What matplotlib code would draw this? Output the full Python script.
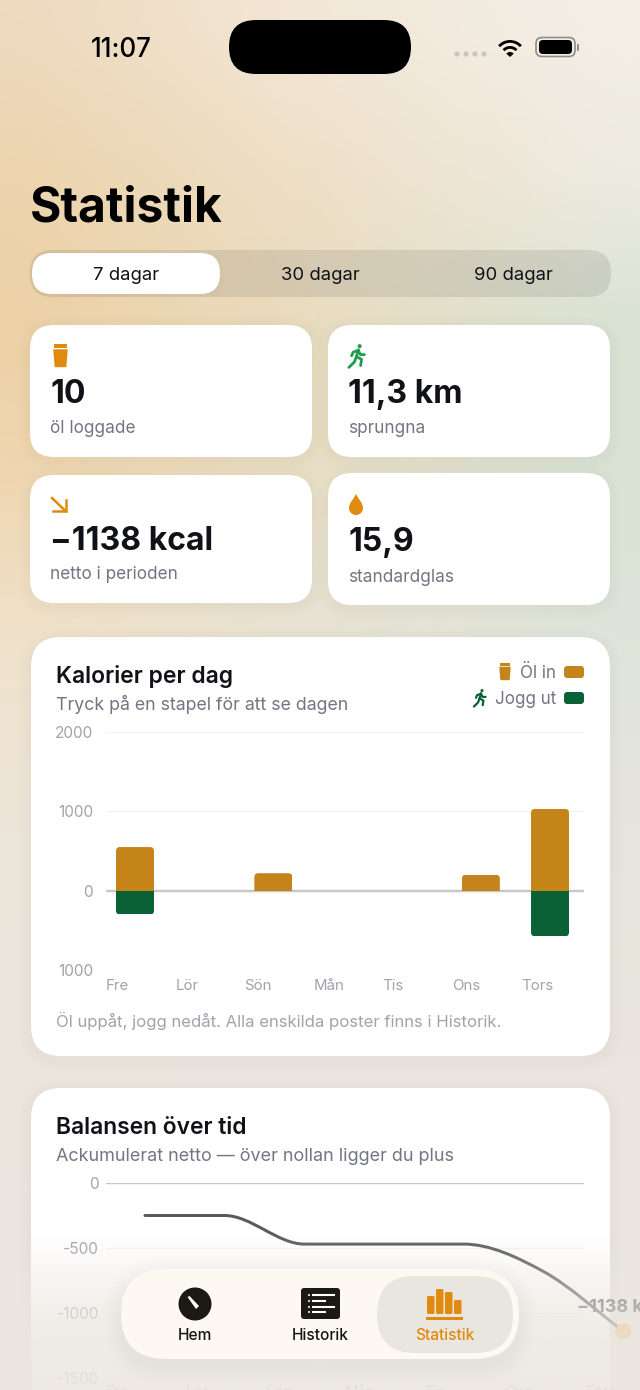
"""Statistik screen of the beer/jogging app: stat cards, calories per day, balance over time."""
import numpy as np
import matplotlib
matplotlib.use("Agg")
import matplotlib.pyplot as plt
from matplotlib.colors import to_rgb
from matplotlib.patches import Circle, Ellipse, FancyBboxPatch, PathPatch, Polygon, Rectangle, Wedge
from matplotlib.path import Path as MPath

plt.rcParams["font.family"] = ["Inter", "DejaVu Sans"]

W, H = 640, 1390
PX = 0.72  # px -> pt at dpi 100

INK = "#111217"
SUB = "#737682"
MUTED = "#a1a3ad"
ORANGE = "#e08a0e"
BEER = "#c5841a"
JOG = "#0b6136"
RUN_GREEN = "#1f9d4d"
GRID = "#f2f2f3"
ZERO = "#c6c6cc"
TAB = "#fdf9f2"
FADE = "#ece7e0"

DAYS = ["Fre", "Lör", "Sön", "Mån", "Tis", "Ons", "Tors"]
BEER_KCAL = [550, 0, 220, 0, 0, 200, 1030]
JOG_KCAL = [300, 0, 0, 0, 0, 0, 575]
BAR_TICKS = [-1000, 0, 1000, 2000]
BAR_TICK_LABELS = ["1000", "0", "1000", "2000"]

BALANCE = [-250, -250, -470, -470, -470, -680, -1138]
LINE_TICKS = [-1500, -1000, -500, 0]
LINE_TICK_LABELS = ["-1500", "-1000", "-500", "0"]

RANGES = ["7 dagar", "30 dagar", "90 dagar"]
STATS = [("10", "öl loggade"), ("11,3 km", "sprungna"),
         ("−1138 kcal", "netto i perioden"), ("15,9", "standardglas")]
TABS = ["Hem", "Historik", "Statistik"]

# background colours on a coarse grid (left, middle, right)
BG_ROWS = [0, 150, 300, 450, 620, 800, 1100, 1390]
BG = [["#eedabf", "#f3e8d8", "#f3efe7"],
      ["#ecd4ae", "#eee0c8", "#eeebe1"],
      ["#edd1a6", "#e9dcc0", "#d9e3d4"],
      ["#efd6b0", "#e9dfc6", "#d9e3d5"],
      ["#f0e2cb", "#e7e3d5", "#dfe4da"],
      ["#ede5d9", "#e9e5dc", "#e6e5dd"],
      ["#ebe6df", "#ebe6df", "#ebe6df"],
      ["#ebe6df", "#ebe6df", "#ebe6df"]]


def px_axes(fig, x0, y0, x1, y1, **kw):
    return fig.add_axes([x0 / W, 1 - y1 / H, (x1 - x0) / W, (y1 - y0) / H], **kw)


def txt(ax, x, y, s, size, color=INK, weight="normal", ha="left", va="baseline", z=8, **kw):
    return ax.text(x, y, s, fontsize=size * PX, color=color, fontweight=weight,
                   ha=ha, va=va, zorder=z, **kw)


def rrect(ax, x0, y0, x1, y1, r, color, z=2, alpha=1.0, lw=0):
    p = FancyBboxPatch((x0, y0), x1 - x0, y1 - y0,
                       boxstyle=f"round,pad=0,rounding_size={r}",
                       fc=color, ec="none", lw=lw, alpha=alpha, zorder=z)
    ax.add_patch(p)
    return p


def shadow(ax, x0, y0, x1, y1, r, z=1, spread=12, dy=3, strength=0.0025):
    for k in range(spread, 0, -2):
        rrect(ax, x0 - k, y0 - k + dy, x1 + k, y1 + k + dy, r + k, "#5a4a30",
              z=z, alpha=strength)


def card(ax, x0, y0, x1, y1, r, z=2):
    shadow(ax, x0, y0, x1, y1, r, z=z - 0.5)
    rrect(ax, x0, y0, x1, y1, r, "white", z=z)


def runner(ax, cx, cy, s, color, lw, z=6):
    # s = half height of the icon in px
    ax.add_patch(Circle((cx + 0.22 * s, cy - 0.82 * s), 0.17 * s, fc=color, ec="none", zorder=z))
    parts = [[(0.12, -0.52), (-0.05, 0.05)],                    # torso
             [(0.12, -0.48), (-0.32, -0.32), (-0.45, -0.02)],   # back arm
             [(0.10, -0.48), (0.28, -0.12), (0.62, -0.12)],     # front arm
             [(-0.05, 0.05), (0.38, 0.28), (0.30, 0.80)],       # front leg
             [(-0.05, 0.05), (-0.22, 0.50), (-0.68, 0.95)]]     # back leg
    for pts in parts:
        xs = [cx + s * a for a, _ in pts]
        ys = [cy + s * b for _, b in pts]
        ax.plot(xs, ys, color=color, lw=lw, solid_capstyle="round",
                solid_joinstyle="round", zorder=z)


def glass(ax, x0, y0, x1, y1, color, z=6):
    h = y1 - y0
    w = x1 - x0
    ax.add_patch(Rectangle((x0, y0), w, 0.17 * h, fc=color, ec="none", zorder=z))
    ax.add_patch(Polygon([(x0, y0 + 0.26 * h), (x1, y0 + 0.26 * h),
                          (x1 - 0.1 * w, y1 - 0.5), (x0 + 0.1 * w, y1 - 0.5)],
                         closed=True, fc=color, ec=color, lw=1, joinstyle="round", zorder=z))


def rounded_bars(ax, xs, vals, width, color, r_px, sx, sy):
    """bars with only the outer end rounded, clipped by a longer rounded box"""
    bars = ax.bar(xs, vals, width=width, color=color, linewidth=0, zorder=3)
    for bar, v in zip(bars, vals):
        if v == 0:
            continue
        over = 200 if v > 0 else -200
        b0, b1 = min(-over, v), max(-over, v)
        clip = FancyBboxPatch((bar.get_x(), b0), width, b1 - b0,
                              boxstyle=f"round,pad=0,rounding_size={r_px / sx}",
                              mutation_aspect=sx / sy, transform=ax.transData,
                              fc="none", ec="none")
        bar.set_clip_path(clip)


def bar_glow(ax, xs, ups, downs, width, sx, sy):
    # soft grey halo round each stacked bar
    for k in range(2, 26, 2):
        for xi, u, d in zip(xs, ups, downs):
            if u == 0 and d == 0:
                continue
            ax.bar(xi, u + d + 2 * k / sy, bottom=-d - k / sy, width=width + 2 * k / sx,
                   color="#40403a", alpha=0.0016, linewidth=0, zorder=1.5)


def smooth_path(xs, ys):
    # cubic segments through the points, tangents zero at flats
    xs, ys = np.asarray(xs, float), np.asarray(ys, float)
    d = np.diff(ys) / np.diff(xs)
    m = np.zeros(len(xs))
    for i in range(1, len(xs) - 1):
        m[i] = 0 if d[i - 1] * d[i] <= 0 else 0.5 * (d[i - 1] + d[i])
    m[0], m[-1] = d[0], d[-1]
    verts, codes = [(xs[0], ys[0])], [MPath.MOVETO]
    for i in range(len(xs) - 1):
        h = (xs[i + 1] - xs[i]) / 3
        verts += [(xs[i] + h, ys[i] + m[i] * h), (xs[i + 1] - h, ys[i + 1] - m[i + 1] * h),
                  (xs[i + 1], ys[i + 1])]
        codes += [MPath.CURVE4] * 3
    return MPath(verts, codes)


def style_chart(ax, ticks, labels, pad_px):
    ax.patch.set_alpha(0)
    for s in ax.spines.values():
        s.set_visible(False)
    ax.set_yticks(ticks)
    ax.set_yticklabels(labels)
    ax.tick_params(axis="y", length=0, pad=pad_px * PX, labelsize=15.5 * PX, labelcolor=MUTED)
    ax.tick_params(axis="x", length=0, labelsize=15 * PX, labelcolor=MUTED)
    ax.grid(True, axis="y", color=GRID, lw=1.2 * PX)
    ax.set_axisbelow(True)


def main():
    fig = plt.figure(figsize=(W / 100, H / 100), dpi=100)

    # ---- base layer: background, header, cards ------------------------------
    ui = fig.add_axes([0, 0, 1, 1], zorder=0)
    ui.axis("off")
    bg = np.array([[to_rgb(c) for c in row] for row in BG])
    cols = np.linspace(0, W, 9)
    rows = np.arange(0, H + 1, 50)
    fine = np.zeros((len(rows), len(cols), 3))
    for ch in range(3):
        tmp = np.array([np.interp(rows, BG_ROWS, bg[:, j, ch]) for j in range(3)])
        for i in range(len(rows)):
            fine[i, :, ch] = np.interp(cols, [0, W / 2, W], tmp[:, i])
    ui.imshow(fine, extent=(0, W, H, 0), aspect="auto", interpolation="bicubic", zorder=0)
    ui.set_xlim(0, W)
    ui.set_ylim(H, 0)

    # status bar
    txt(ui, 121, 47, "11:07", 26, color="black", weight="medium", ha="center", va="center_baseline")
    rrect(ui, 229, 20, 411, 74, 27, "black", z=3)
    for x in (457, 466, 475, 484):
        ui.add_patch(Circle((x, 54), 2.6, fc="#c9c6c0", ec="none", zorder=3))
    for r in (16, 10):
        ui.add_patch(Wedge((510, 56), r, 222, 318, width=2.8, fc="black", ec="none", zorder=3))
    ui.add_patch(Wedge((510, 57), 5, 222, 318, fc="black", ec="none", zorder=3))
    p = rrect(ui, 536, 37.5, 575, 56.5, 6, "none", z=3)
    p.set_edgecolor("#8f8d88")
    p.set_linewidth(1.2)
    rrect(ui, 539, 40, 572, 54, 4, "black", z=3)
    rrect(ui, 577, 44, 579, 51, 1, "#8f8d88", z=3)

    txt(ui, 29.5, 221, "Statistik", 48, color="black", weight="bold")

    # period selector
    rrect(ui, 30, 250, 611, 297, 23, "#5a5a50", z=1, alpha=0.15)
    shadow(ui, 32, 253, 220, 294, 20, z=1.5, spread=4, dy=1, strength=0.008)
    rrect(ui, 32, 253, 220, 294, 20, "white", z=2)
    for cx, s in zip((126, 320, 513), RANGES):
        txt(ui, cx, 280, s, 18.5, color=INK, ha="center")

    # stat cards
    boxes = [(30, 325, 312, 457), (328, 325, 610, 457), (30, 475, 312, 603), (328, 473, 610, 605)]
    bases = [(403, 433), (403, 433), (550, 579), (551, 582)]
    for box, base, (val, lab) in zip(boxes, bases, STATS):
        card(ui, *box, 24)
        tx = box[0] + 20
        txt(ui, tx, base[0], val, 32, color=INK, weight="bold")
        txt(ui, tx, base[1], lab, 17.2, color=SUB)
    glass(ui, 54, 344, 67, 367, ORANGE)
    runner(ui, 357, 356, 12, RUN_GREEN, 2.0)
    ui.plot([52, 65.5], [498, 511], color=ORANGE, lw=1.8, zorder=6)
    ui.plot([66, 66, 53], [500, 511, 511], color=ORANGE, lw=1.8, zorder=6, solid_joinstyle="miter")
    drop = MPath([(356, 494), (353, 500), (349, 503), (349, 508), (349, 512), (352, 515), (356, 515),
                  (360, 515), (363, 512), (363, 508), (363, 503), (359, 500), (356, 494)],
                 [MPath.MOVETO] + [MPath.CURVE4] * 12)
    ui.add_patch(PathPatch(drop, fc=ORANGE, ec="none", zorder=6))

    # big cards
    card(ui, 31, 637, 610, 1056, 30)
    card(ui, 31, 1088, 610, 1460, 30)
    txt(ui, 56, 683, "Kalorier per dag", 22.9, color=INK, weight="semibold")
    txt(ui, 56, 710, "Tryck på en stapel för att se dagen", 17.7, color=SUB)
    txt(ui, 556, 678, "Öl in", 17, color=SUB, ha="right")
    txt(ui, 556, 704, "Jogg ut", 17, color=SUB, ha="right")
    rrect(ui, 564, 666, 584, 678, 3.5, BEER, z=4)
    rrect(ui, 564, 692, 584, 704, 3.5, JOG, z=4)
    glass(ui, 500, 663, 510, 680, BEER)
    runner(ui, 480, 698, 9, JOG, 1.6)
    txt(ui, 56, 1027, "Öl uppåt, jogg nedåt. Alla enskilda poster finns i Historik.", 16.7, color=MUTED)
    txt(ui, 56, 1134, "Balansen över tid", 22.8, color=INK, weight="semibold")
    txt(ui, 56, 1161, "Ackumulerat netto — över nollan ligger du plus", 18, color=SUB)

    # ---- calories per day ---------------------------------------------------
    ax = px_axes(fig, 106, 732, 584, 970, zorder=1)
    style_chart(ax, BAR_TICKS, BAR_TICK_LABELS, 13)
    step = 69.17
    sx, sy = step, 238 / 3000
    x = np.arange(len(DAYS))
    bw = 38 / step
    bar_glow(ax, x, BEER_KCAL, JOG_KCAL, bw, sx, sy)
    rounded_bars(ax, x, BEER_KCAL, bw, BEER, 4, sx, sy)
    rounded_bars(ax, x, [-v for v in JOG_KCAL], bw, JOG, 4, sx, sy)
    ax.axhline(0, color=ZERO, lw=2.4 * PX, zorder=2)
    ax.set_xlim(-29 / step, 449 / step)
    ax.set_ylim(-1000, 2000)
    ax.set_xticks(x - 29 / step)
    ax.set_xticklabels(DAYS, ha="left")
    ax.tick_params(axis="x", pad=6.5)
    ax.grid(False, axis="x")

    # ---- balance over time --------------------------------------------------
    ax2 = px_axes(fig, 106, 1183, 584, 1378, zorder=1)
    style_chart(ax2, LINE_TICKS, LINE_TICK_LABELS, 7)
    lstep = 79.8
    ax2.set_xlim(-39 / lstep, 439 / lstep)
    ax2.set_ylim(-1500, 0)
    x2 = np.arange(len(DAYS))
    ax2.add_patch(PathPatch(smooth_path(x2, BALANCE), fc="none", ec="#5a5a5c", lw=3 * PX,
                            capstyle="round", clip_on=False, zorder=3))
    ax2.scatter([x2[-1]], [BALANCE[-1]], s=(16 * PX) ** 2, color="#eeae55", linewidth=0,
                clip_on=False, zorder=4)
    ax2.axhline(0, color=ZERO, lw=2.4 * PX, zorder=2)
    ax2.annotate("−1138 kcal", (x2[-1], BALANCE[-1]), xytext=(0, 11), textcoords="offset points",
                 ha="center", va="bottom", fontsize=18 * PX, fontweight="bold", color="#55565c",
                 annotation_clip=False, zorder=4)
    ax2.set_xticks(x2 - 39 / lstep)
    ax2.set_xticklabels(DAYS, ha="left")
    ax2.tick_params(axis="x", pad=5)

    # ---- fade and tab bar on top ---------------------------------------------
    top = fig.add_axes([0, 0, 1, 1], zorder=3)
    top.patch.set_alpha(0)
    top.axis("off")
    fade = np.zeros((60, 1, 4))
    fade[:, :, :3] = to_rgb(FADE)
    fade[:, 0, 3] = np.interp(np.linspace(1230, 1390, 60), [1230, 1255, 1290, 1330, 1390],
                              [0, 0.18, 0.5, 0.78, 0.9])
    top.imshow(fade, extent=(0, W, 1390, 1230), aspect="auto", interpolation="bilinear", zorder=1)
    top.set_xlim(0, W)
    top.set_ylim(H, 0)

    shadow(top, 121, 1269, 519, 1359, 45, z=2, spread=18, dy=6, strength=0.005)
    rrect(top, 121, 1269, 519, 1359, 45, TAB, z=3)
    rrect(top, 377, 1276, 513, 1353, 38, "#e9e6df", z=4)
    for cx, s, c in zip((195, 320, 444.5), TABS, ("#17140f", "#17140f", ORANGE)):
        txt(top, cx, 1340, s, 15.5, color=c, weight="medium", ha="center")
    # Hem: gauge
    top.add_patch(Ellipse((195, 1304), 33, 33, fc="#1c1812", ec="none", zorder=5))
    top.add_patch(Polygon([(187.5, 1297), (189.5, 1296), (199, 1306), (196, 1309)],
                          closed=True, fc="white", ec="none", zorder=6))
    # Historik: list
    rrect(top, 301, 1288, 340, 1319, 3, "#1c1812", z=5)
    for yy, x1 in ((1295, 334), (1301, 325), (1307, 334), (1312, 325)):
        top.add_patch(Circle((309, yy), 1, fc="white", ec="none", zorder=6))
        top.plot([312.5, x1], [yy, yy], color="white", lw=1.5, zorder=6)
    # Statistik: bars
    for x0, y0 in ((427, 1296), (436, 1289), (445, 1292), (454, 1300)):
        rrect(top, x0, y0, x0 + 7.5, 1314, 1.5, ORANGE, z=5)
    top.add_patch(Rectangle((426, 1317), 37, 3, fc=ORANGE, ec="none", zorder=5))

    fig.savefig("out.png", dpi=100)


if __name__ == "__main__":
    main()
